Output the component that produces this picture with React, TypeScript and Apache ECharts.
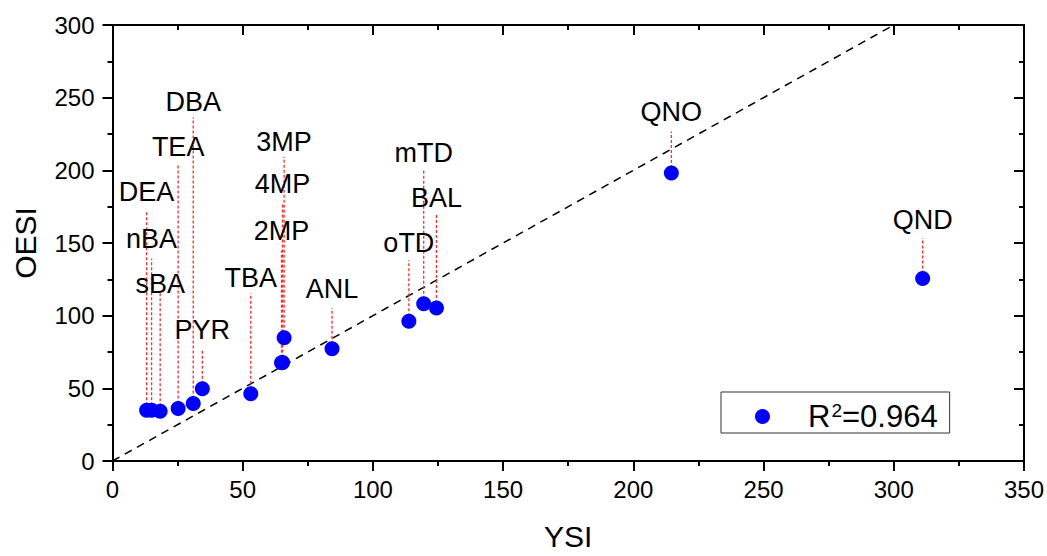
import React, { useEffect, useRef } from "react";
import * as echarts from "echarts";

const names = ["DEA", "nBA", "sBA", "TEA", "DBA", "PYR", "TBA", "3MP", "4MP", "2MP", "ANL", "oTD", "mTD", "BAL", "QNO", "QND"];
const ysi = [13.1, 15.0, 18.3, 25.2, 31.0, 34.5, 53.1, 65.9, 65.3, 64.9, 84.3, 113.8, 119.5, 124.4, 214.6, 311.1];
const oesi = [35.0, 35.0, 34.3, 36.1, 39.5, 49.7, 46.3, 84.8, 67.8, 67.6, 77.3, 96.1, 108.2, 105.2, 198.1, 125.6];
const labelY = [185.0, 153.0, 121.5, 216.2, 246.8, 89.9, 125.9, 219.8, 190.7, 158.2, 118.4, 150.0, 212.0, 181.1, 240.0, 165.8];
const leaderTop = [172.3, 139.2, 116.5, 203.7, 236.6, 77.3, 115.4, 209.4, 177.0, 144.9, 105.2, 138.1, 200.3, 169.7, 226.8, 153.4];
const parityLine = [[0, 0], [300, 300]];
const seriesName = "R²=0.964";

const FONT = "'Liberation Sans', Arial, sans-serif";
const LEADER = { color: "#ff2a2a", width: 1.3, type: [3, 2] as number[], opacity: 1 };

export default function App() {
  const ref = useRef<HTMLDivElement>(null);
  useEffect(() => {
    if (!ref.current) return;
    const chart = echarts.init(ref.current, undefined, { renderer: "svg" });
    const axisCommon = {
      type: "value" as const,
      splitLine: { show: false },
      axisLine: { show: true, onZero: false, lineStyle: { color: "#000", width: 2 } },
    };
    const leaderSeries = names.map((n, i) => ({
      name: "leader-" + n,
      type: "line",
      data: [[ysi[i], oesi[i]], [ysi[i], leaderTop[i]]],
      symbol: "none",
      silent: true,
      lineStyle: LEADER,
      emphasis: { disabled: true },
      z: 2,
    }));
    chart.setOption({
      animation: false,
      backgroundColor: "#fff",
      textStyle: { fontFamily: FONT },
      grid: { left: 112.5, right: 22.5, top: 25, bottom: 89.5 },
      legend: {
        left: 721,
        top: 392,
        padding: [1, 12, 1, 34],
        itemWidth: 15,
        itemHeight: 15,
        icon: "circle",
        borderColor: "#333",
        borderWidth: 1,
        data: [seriesName],
        formatter: () => "{g|}{a|R}{s|2}{a|=0.964}",
        textStyle: {
          rich: {
            g: { width: 33, lineHeight: 47 },
            a: { fontSize: 31, color: "#000", fontFamily: FONT, lineHeight: 47 },
            s: { fontSize: 19, color: "#000", fontFamily: FONT, lineHeight: 19, verticalAlign: "top", padding: [8, 0, 0, 1] },
          },
        },
      },
      xAxis: [
        {
          ...axisCommon,
          position: "bottom",
          min: 0,
          max: 350,
          interval: 50,
          axisTick: { show: true, inside: false, length: 10, lineStyle: { color: "#000", width: 2 } },
          minorTick: { show: true, splitNumber: 2, length: 5, lineStyle: { color: "#000", width: 2 } },
          axisLabel: { fontSize: 24, color: "#000", margin: 16, fontFamily: FONT },
          name: "YSI",
          nameLocation: "middle",
          nameGap: 60,
          nameTextStyle: { fontSize: 30, color: "#000", fontFamily: FONT },
        },
        {
          ...axisCommon,
          position: "top",
          min: 0,
          max: 350,
          interval: 50,
          axisTick: { show: true, inside: true, length: 10, lineStyle: { color: "#000", width: 2 } },
          minorTick: { show: true, splitNumber: 2, length: 5, lineStyle: { color: "#000", width: 2 } },
          axisLabel: { show: false },
        },
      ],
      yAxis: [
        {
          ...axisCommon,
          position: "left",
          min: 0,
          max: 300,
          interval: 50,
          axisTick: { show: true, inside: false, length: 10, lineStyle: { color: "#000", width: 2 } },
          minorTick: { show: true, splitNumber: 2, length: 5, lineStyle: { color: "#000", width: 2 } },
          axisLabel: { fontSize: 24, color: "#000", margin: 18, fontFamily: FONT },
          name: "OESI",
          nameLocation: "middle",
          nameGap: 72,
          nameTextStyle: { fontSize: 30, color: "#000", fontFamily: FONT },
        },
        {
          ...axisCommon,
          position: "right",
          min: 0,
          max: 300,
          interval: 50,
          axisTick: { show: true, inside: true, length: 10, lineStyle: { color: "#000", width: 2 } },
          minorTick: { show: true, splitNumber: 2, length: 5, lineStyle: { color: "#000", width: 2 } },
          axisLabel: { show: false },
        },
      ],
      series: [
        {
          name: "parity",
          type: "line",
          data: parityLine,
          symbol: "none",
          silent: true,
          lineStyle: { color: "#000", width: 1.5, type: [8, 6] },
          z: 1,
        },
        ...leaderSeries,
        {
          name: "labels",
          type: "scatter",
          data: names.map((n, i) => ({ name: n, value: [ysi[i], labelY[i]] })),
          symbolSize: 1,
          itemStyle: { color: "rgba(0,0,0,0)", opacity: 1 },
          label: {
            show: true,
            position: "inside",
            formatter: (p: any) => p.name,
            fontSize: 27,
            color: "#000",
            fontFamily: FONT,
          },
          silent: true,
          z: 3,
        },
        {
          name: seriesName,
          type: "scatter",
          data: names.map((n, i) => ({ name: n, value: [ysi[i], oesi[i]] })),
          symbol: "circle",
          symbolSize: 15,
          itemStyle: { color: "#0000ff", opacity: 1 },
          z: 5,
        },
      ],
    });
    return () => chart.dispose();
  }, []);
  return (
    <div
      ref={ref}
      style={{ position: "absolute", left: 0, top: 0, width: 1047, height: 556, background: "#fff" }}
    />
  );
}
